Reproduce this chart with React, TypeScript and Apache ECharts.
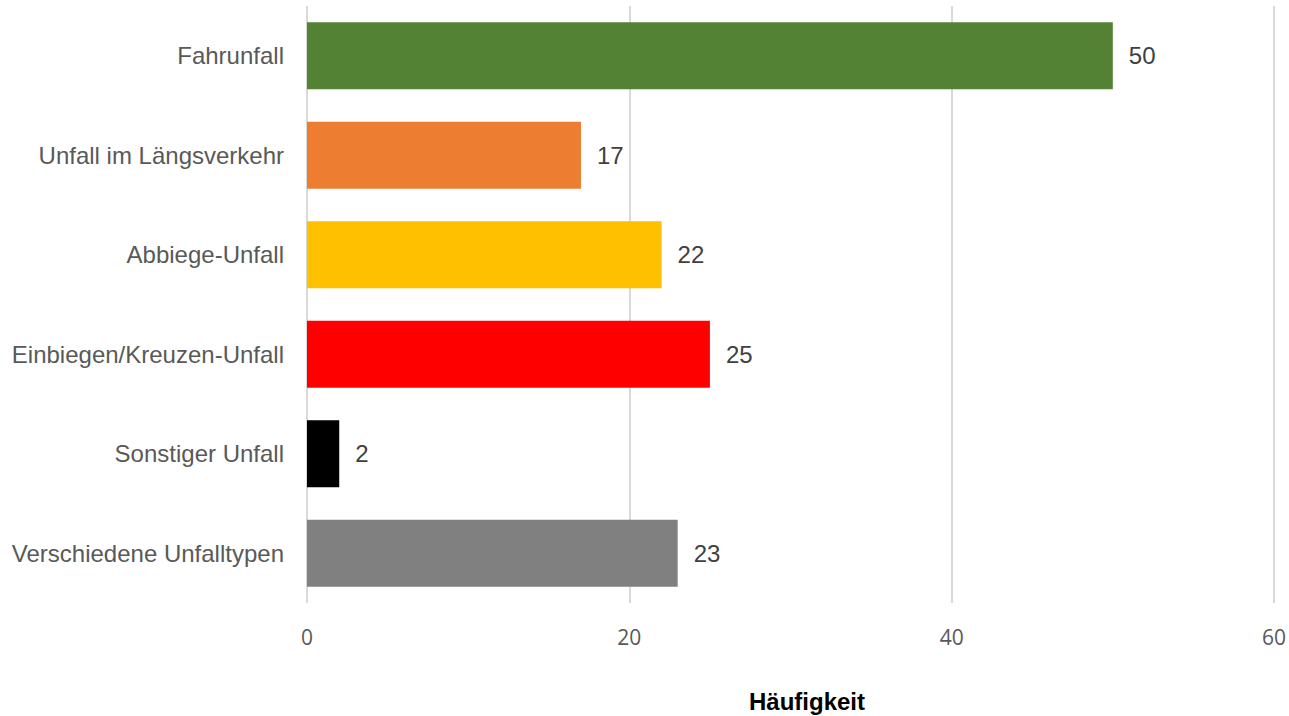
import React, { useEffect, useRef } from "react";
import * as echarts from "echarts";

const categories = [
  "Fahrunfall",
  "Unfall im Längsverkehr",
  "Abbiege-Unfall",
  "Einbiegen/Kreuzen-Unfall",
  "Sonstiger Unfall",
  "Verschiedene Unfalltypen",
];
const values = [50, 17, 22, 25, 2, 23];
const colors = ["#548235", "#ED7D31", "#FFC000", "#FF0000", "#000000", "#808080"];
const xTicks = [0, 20, 40, 60];

export default function App() {
  const ref = useRef<HTMLDivElement>(null);
  useEffect(() => {
    const chart = echarts.init(ref.current!, undefined, { renderer: "svg" });
    chart.setOption({
      animation: false,
      grid: { left: 307, right: 10, top: 6, bottom: 113, containLabel: false },
      xAxis: {
        type: "value",
        min: xTicks[0],
        max: xTicks[xTicks.length - 1],
        interval: 20,
        axisLine: { show: false },
        axisTick: { show: false },
        splitLine: { show: true, lineStyle: { color: "#d9d9d9", width: 2 } },
        axisLabel: {
          margin: 23,
          color: "#595959",
          fontSize: 21,
          fontFamily: "Open Sans",
        },
      },
      yAxis: {
        type: "category",
        data: categories,
        inverse: true,
        axisLine: { show: false },
        axisTick: { show: false },
        axisLabel: {
          margin: 23,
          color: "#595959",
          fontSize: 24,
          fontFamily: "Liberation Sans, Arial",
        },
      },
      graphic: [
        {
          type: "text",
          x: 807,
          y: 701,
          style: {
            text: "Häufigkeit",
            fill: "#000000",
            font: "bold 24px 'Liberation Sans', Arial",
            textAlign: "center",
            textVerticalAlign: "middle",
          },
        },
      ],
      series: [
        {
          type: "bar",
          barWidth: 67,
          data: values.map((v, i) => ({ value: v, itemStyle: { color: colors[i] } })),
          label: {
            show: true,
            position: "right",
            distance: 16,
            color: "#404040",
            fontSize: 24,
            fontFamily: "Liberation Sans, Arial",
          },
        },
      ],
    });
    return () => chart.dispose();
  }, []);
  return (
    <div
      ref={ref}
      style={{ position: "fixed", left: 0, top: 0, width: 1289, height: 716, background: "#fff" }}
    />
  );
}
